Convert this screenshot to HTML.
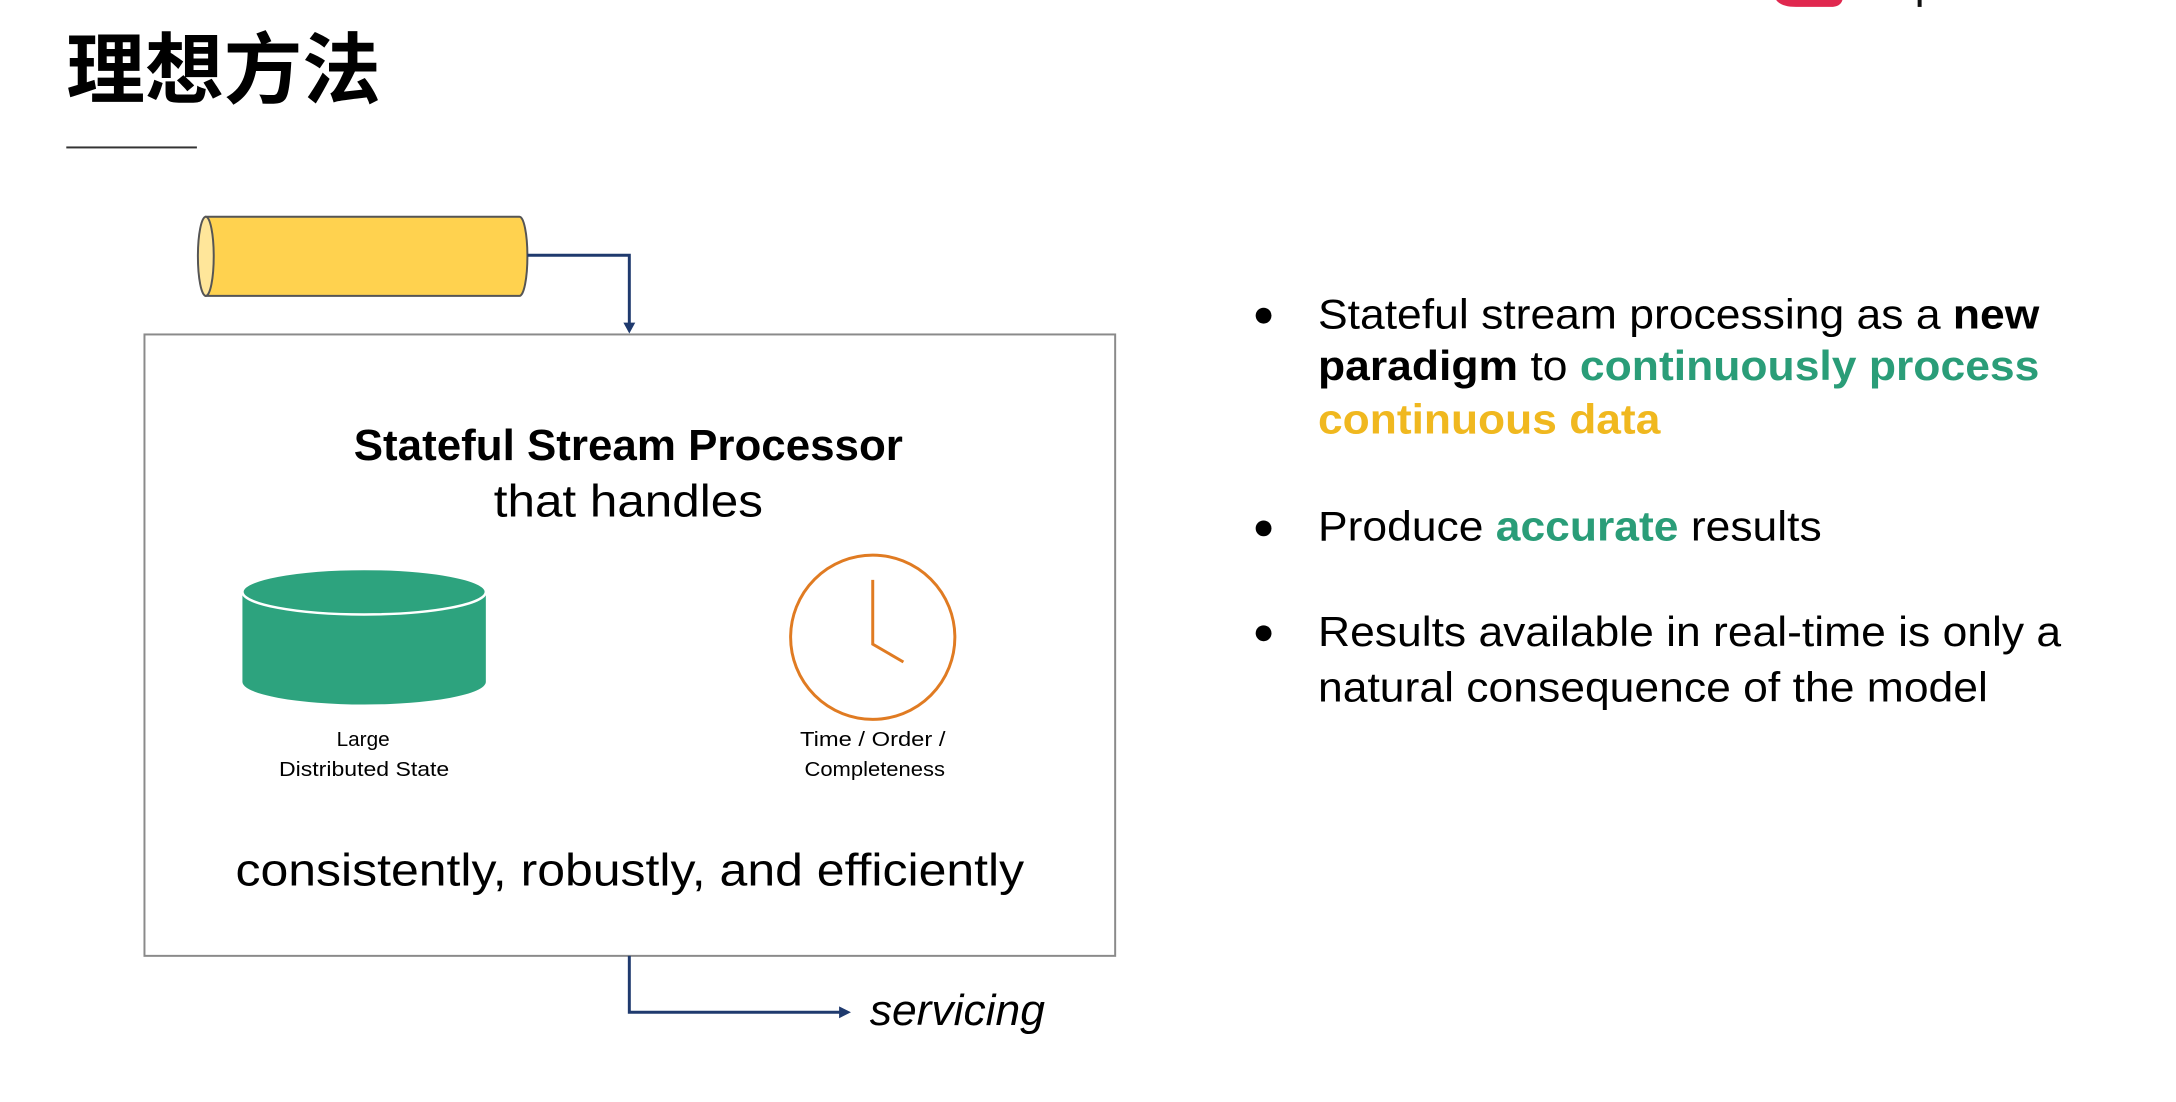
<!DOCTYPE html>
<html><head><meta charset="utf-8"><style>
html,body{margin:0;padding:0;background:#fff;}
svg{display:block;}
</style></head><body>
<svg width="2176" height="1102" viewBox="0 0 2176 1102" xmlns="http://www.w3.org/2000/svg">
<rect width="2176" height="1102" fill="#fff"/>
<g transform="scale(0.9895)">
<!-- logo fragment -->
<path d="M1795 0 Q1800 7 1815 7 L1850 7 Q1860 7 1862 0 Z" fill="#e0284f"/>
<rect x="1938" y="0" width="4" height="7" fill="#111"/>
<!-- title -->
<text x="67" y="98" font-family="'Liberation Sans','Noto Sans CJK SC',sans-serif" font-weight="bold" font-size="78" textLength="318" lengthAdjust="spacingAndGlyphs" fill="#000">理想方法</text>
<rect x="67" y="148" width="132" height="2" fill="#333"/>
<!-- cylinder -->
<path d="M208 219 L525 219 A8 40 0 0 1 525 299 L208 299 Z" fill="#ffd24f" stroke="#555" stroke-width="2"/>
<ellipse cx="208" cy="259" rx="8" ry="40" fill="#ffe69a" stroke="#555" stroke-width="2"/>
<!-- top connector -->
<path d="M533 258 L636 258 L636 328" fill="none" stroke="#1f3a6e" stroke-width="3"/>
<path d="M630 326 L642 326 L636 337 Z" fill="#1f3a6e"/>
<!-- box -->
<rect x="146" y="338" width="981" height="628" fill="#fff" stroke="#8a8a8a" stroke-width="2"/>
<text x="635" y="465" text-anchor="middle" font-family="'Liberation Sans',sans-serif" font-weight="bold" font-size="44" textLength="555" lengthAdjust="spacingAndGlyphs" fill="#000">Stateful Stream Processor</text>
<text x="635" y="522" text-anchor="middle" font-family="'Liberation Sans',sans-serif" font-size="46" textLength="272" lengthAdjust="spacingAndGlyphs" fill="#000">that handles</text>
<!-- database -->
<path d="M245 598 L245 689 A123 23 0 0 0 491 689 L491 598 Z" fill="#2da37e"/>
<ellipse cx="368" cy="598" rx="123" ry="23" fill="#2da37e" stroke="#fff" stroke-width="2.5"/>
<text x="367" y="754" text-anchor="middle" font-family="'Liberation Sans',sans-serif" font-size="21" fill="#000">Large</text>
<text x="368" y="784" text-anchor="middle" font-family="'Liberation Sans',sans-serif" font-size="21" textLength="172" lengthAdjust="spacingAndGlyphs" fill="#000">Distributed State</text>
<!-- clock -->
<circle cx="882" cy="644" r="83" fill="none" stroke="#e07b22" stroke-width="3"/>
<path d="M882 586 L882 651 L913 669" fill="none" stroke="#e07b22" stroke-width="3"/>
<text x="882" y="754" text-anchor="middle" font-family="'Liberation Sans',sans-serif" font-size="21" textLength="147" lengthAdjust="spacingAndGlyphs" fill="#000">Time / Order /</text>
<text x="884" y="784" text-anchor="middle" font-family="'Liberation Sans',sans-serif" font-size="21" textLength="142" lengthAdjust="spacingAndGlyphs" fill="#000">Completeness</text>
<text x="238" y="895" font-family="'Liberation Sans',sans-serif" font-size="46" textLength="797" lengthAdjust="spacingAndGlyphs" fill="#000">consistently, robustly, and efficiently</text>
<!-- bottom connector -->
<path d="M636 966 L636 1023 L850 1023" fill="none" stroke="#1f3a6e" stroke-width="3"/>
<path d="M848 1017 L860 1023 L848 1029 Z" fill="#1f3a6e"/>
<text x="879" y="1036" font-family="'Liberation Sans',sans-serif" font-style="italic" font-size="44" textLength="177" lengthAdjust="spacingAndGlyphs" fill="#000">servicing</text>
<!-- bullets -->
<g font-family="'Liberation Sans',sans-serif" font-size="42" fill="#000">
<circle cx="1277" cy="319" r="8"/>
<circle cx="1277" cy="534" r="8"/>
<circle cx="1277" cy="640" r="8"/>
<text x="1332" y="332" textLength="729" lengthAdjust="spacingAndGlyphs">Stateful stream processing as a <tspan font-weight="bold">new</tspan></text>
<text x="1332" y="384" textLength="729" lengthAdjust="spacingAndGlyphs"><tspan font-weight="bold">paradigm</tspan> to <tspan font-weight="bold" fill="#2a9d78">continuously process</tspan></text>
<text x="1332" y="438" textLength="346" lengthAdjust="spacingAndGlyphs" font-weight="bold" fill="#f0b81f">continuous data</text>
<text x="1332" y="546" textLength="509" lengthAdjust="spacingAndGlyphs">Produce <tspan font-weight="bold" fill="#2a9d78">accurate</tspan> results</text>
<text x="1332" y="653" textLength="751" lengthAdjust="spacingAndGlyphs">Results available in real-time is only a</text>
<text x="1332" y="709" textLength="677" lengthAdjust="spacingAndGlyphs">natural consequence of the model</text>
</g>
</g>
</svg>
</body></html>
